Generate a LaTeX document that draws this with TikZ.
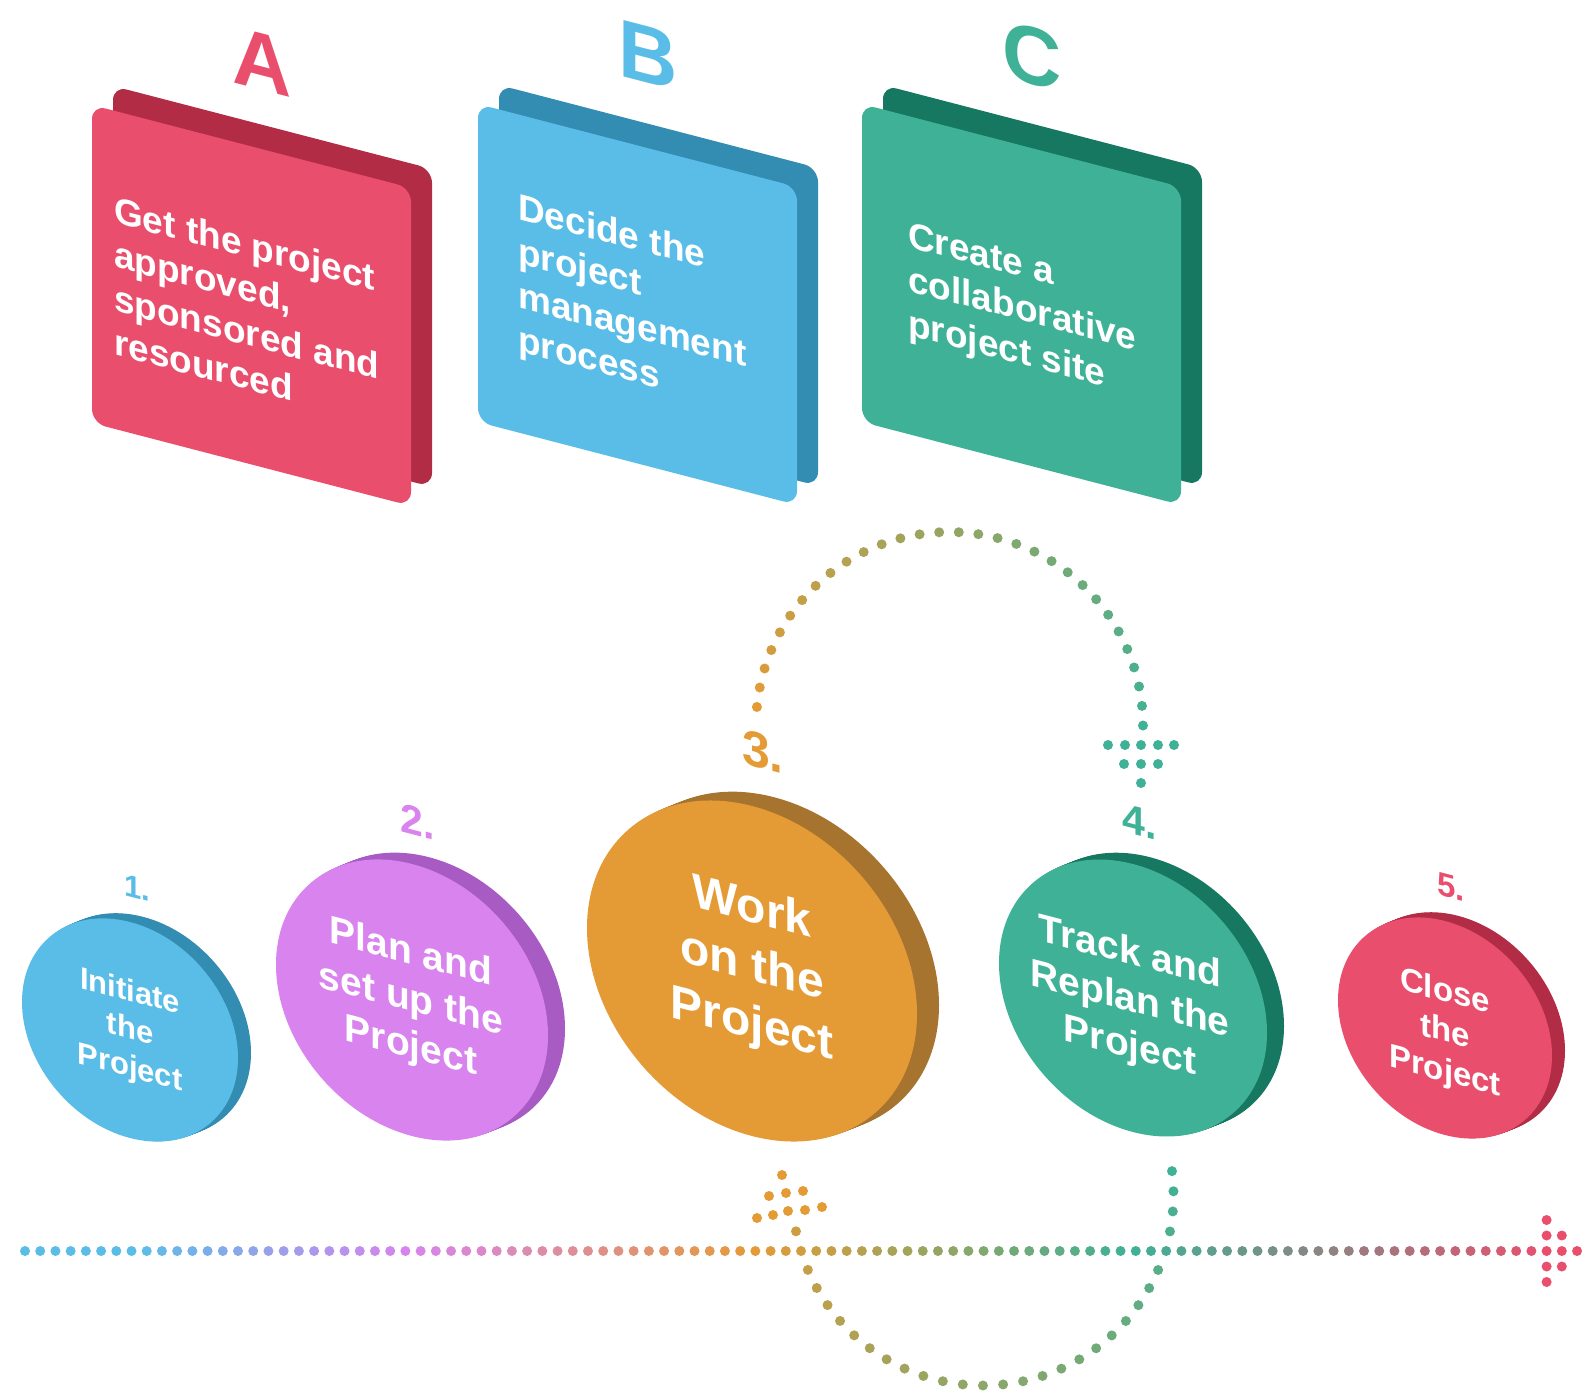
\documentclass[tikz,border=0pt]{standalone}
\usepackage{fontspec}
\setmainfont{Liberation Sans}
\definecolor{cblue}{RGB}{90,189,231}
\definecolor{dblue}{RGB}{51,140,178}
\definecolor{cpurple}{RGB}{216,131,238}
\definecolor{dpurple}{RGB}{169,91,196}
\definecolor{corange}{RGB}{228,155,53}
\definecolor{dorange}{RGB}{167,116,47}
\definecolor{cteal}{RGB}{62,177,150}
\definecolor{dteal}{RGB}{22,120,96}
\definecolor{cred}{RGB}{233,79,109}
\definecolor{dred}{RGB}{179,44,70}
\tikzset{
  shear/.style={cm={1,-0.26,0,1,(0,0)}},
  cardtext/.style={text=white, font=\bfseries\fontsize{37}{44}\selectfont, align=left, inner sep=0pt, transform shape, anchor=north west},
  disctext/.style={text=white, align=center, inner sep=0pt, transform shape},
  lbl/.style={inner sep=0pt, transform shape},
  cardshape/.style={rounded corners=14},
}
\newcommand\isodisc[6]{%
  \begin{scope}[shift={(#1,#2)}]
    \foreach \t in {1,0.9,0.8,0.7,0.6,0.5,0.4,0.3,0.2,0.1}{
      \fill[#6,shift={({\t*#4},{-0.4*\t*#4})},shear] (0,0) circle[radius=#3];
    }
    \fill[#5,shear] (0,0) circle[radius=#3];
  \end{scope}}
\newcommand\tldot[2]{\fill[#1] #2 circle[radius=5];}
\begin{document}
\begin{tikzpicture}[x=1pt,y=-1pt]
\fill[white] (0,0) rectangle (1588,1397);
\useasboundingbox (0,0) rectangle (1588,1397);

% ---------- cards ----------
\begin{scope}[shift={(113,86)},shear]
  \fill[dred,cardshape] (0,0) rectangle (319,318);
\end{scope}
\begin{scope}[shift={(92,105)},shear]
  \fill[cred,cardshape] (0,0) rectangle (319,318);
  \node[cardtext] (ta) at (22,85) {Get the project\\approved,\\sponsored and\\resourced};
\end{scope}
\begin{scope}[shift={(499,85)},shear]
  \fill[dblue,cardshape] (0,0) rectangle (319,318);
\end{scope}
\begin{scope}[shift={(478,104)},shear]
  \fill[cblue,cardshape] (0,0) rectangle (319,318);
  \node[cardtext] (tb) at (40,78) {Decide the\\project\\management\\process};
\end{scope}
\begin{scope}[shift={(883,85)},shear]
  \fill[dteal,cardshape] (0,0) rectangle (319,318);
\end{scope}
\begin{scope}[shift={(862,104)},shear]
  \fill[cteal,cardshape] (0,0) rectangle (319,318);
  \node[cardtext] (tc) at (46,105) {Create a\\collaborative\\project site};
\end{scope}

% letters
\begin{scope}[shift={(262,62)},shear]
  \node[lbl,text=cred,font=\bfseries\fontsize{82}{86}\selectfont] (la) {A};
\end{scope}
\begin{scope}[shift={(648,55)},shear]
  \node[lbl,text=cblue,font=\bfseries\fontsize{82}{86}\selectfont] (lb) {B};
\end{scope}
\begin{scope}[shift={(1032,56)},shear]
  \node[lbl,text=cteal,font=\bfseries\fontsize{82}{86}\selectfont] (lc) {C};
\end{scope}

% ---------- timeline ----------
\foreach \k in {0,...,102}{
  \pgfmathsetmacro\xx{25+15.216*\k}
  \ifnum\k<8 \def\cc{cblue}\else
   \ifnum\k<26 \pgfmathtruncatemacro\pp{(\xx-135)/2.75}\edef\cc{cpurple!\pp!cblue}\else
    \ifnum\k<49 \pgfmathtruncatemacro\pp{(\xx-410)/3.45}\edef\cc{corange!\pp!cpurple}\else
     \ifnum\k<73 \pgfmathtruncatemacro\pp{(\xx-755)/3.75}\edef\cc{cteal!\pp!corange}\else
      \ifnum\k<101 \pgfmathtruncatemacro\pp{(\xx-1130)/4.16}\edef\cc{cred!\pp!cteal}\else
       \def\cc{cred}\fi\fi\fi\fi\fi
  \fill[\cc] (\xx,1251) circle[radius=5];
}
% timeline arrow head
\tldot{cred}{(1546.6,1235.5)}
\tldot{cred}{(1546.6,1266.5)}
\tldot{cred}{(1546.6,1220)}
\tldot{cred}{(1546.6,1282)}
\tldot{cred}{(1561.8,1235.5)}
\tldot{cred}{(1561.8,1266.5)}

% ---------- upper loop ----------
\foreach \i in {0,...,30}{
  \pgfmathsetmacro\th{174.5-5.8167*\i}
  \pgfmathtruncatemacro\pp{\i*100/30}
  \fill[cteal!\pp!corange] ({949.5+193.5*cos(\th)},{725.5-193.5*sin(\th)}) circle[radius=5];
}
\tldot{cteal}{(1108,745)}
\tldot{cteal}{(1125,745)}
\tldot{cteal}{(1141,745)}
\tldot{cteal}{(1158,745)}
\tldot{cteal}{(1174,745)}
\tldot{cteal}{(1124,764)}
\tldot{cteal}{(1141,764)}
\tldot{cteal}{(1158,764)}
\tldot{cteal}{(1141,783)}

% ---------- lower loop ----------
\foreach \i in {0,...,29}{
  \pgfmathsetmacro\th{7.2-6.076*\i}
  \pgfmathsetmacro\yy{1195-190.5*sin(\th)}
  \pgfmathtruncatemacro\pp{100-\i*85/29}
  \pgfmathtruncatemacro\ok{abs(\yy-1251)>9}
  \ifnum\ok=1
    \fill[cteal!\pp!corange] ({983+190.5*cos(\th)},\yy) circle[radius=5];
  \fi
}
\tldot{corange}{(757,1218)}
\tldot{corange}{(773,1215)}
\tldot{corange}{(788,1211)}
\tldot{corange}{(805,1210)}
\tldot{corange}{(822,1207)}
\tldot{corange}{(769,1196)}
\tldot{corange}{(786,1193)}
\tldot{corange}{(803,1191)}
\tldot{corange}{(782,1175)}

% ---------- discs ----------
\isodisc{130}{1030}{108}{13}{cblue}{dblue}
\isodisc{412}{1000}{136}{17}{cpurple}{dpurple}
\isodisc{752}{971}{165}{22}{corange}{dorange}
\isodisc{1133}{998}{134}{17}{cteal}{dteal}
\isodisc{1445}{1028}{107}{13}{cred}{dred}

\begin{scope}[shift={(130,1031)},shear]
  \node[disctext,font=\bfseries\fontsize{31}{38}\selectfont] (d1) {Initiate\\the\\Project};
\end{scope}
\begin{scope}[shift={(411,1001)},shear]
  \node[disctext,font=\bfseries\fontsize{39}{47}\selectfont] (d2) {Plan and\\set up the\\Project};
\end{scope}
\begin{scope}[shift={(752,968)},shear]
  \node[disctext,font=\bfseries\fontsize{48}{58}\selectfont] (d3) {Work\\on the\\Project};
\end{scope}
\begin{scope}[shift={(1130,1001)},shear]
  \node[disctext,font=\bfseries\fontsize{39}{47}\selectfont] (d4) {Track and\\Replan the\\Project};
\end{scope}
\begin{scope}[shift={(1445,1033)},shear]
  \node[disctext,font=\bfseries\fontsize{33}{40}\selectfont] (d5) {Close\\the\\Project};
\end{scope}

% numbers
\begin{scope}[shift={(137,888)},shear]
  \node[lbl,text=cblue,font=\bfseries\fontsize{31}{36}\selectfont] (n1) {1.};
\end{scope}
\begin{scope}[shift={(418,822)},shear]
  \node[lbl,text=cpurple,font=\bfseries\fontsize{41}{48}\selectfont] (n2) {2.};
\end{scope}
\begin{scope}[shift={(763,752)},shear]
  \node[lbl,text=corange,font=\bfseries\fontsize{50}{58}\selectfont] (n3) {3.};
\end{scope}
\begin{scope}[shift={(1140,822)},shear]
  \node[lbl,text=cteal,font=\bfseries\fontsize{41}{48}\selectfont] (n4) {4.};
\end{scope}
\begin{scope}[shift={(1451,887)},shear]
  \node[lbl,text=cred,font=\bfseries\fontsize{33}{38}\selectfont] (n5) {5.};
\end{scope}
\end{tikzpicture}
\end{document}
